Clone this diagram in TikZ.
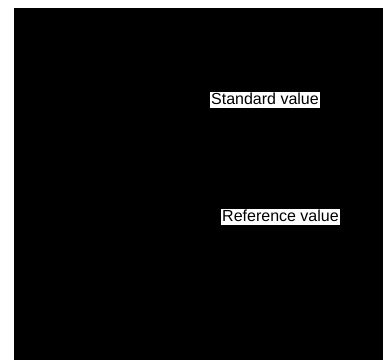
\documentclass[tikz,border=0pt]{standalone}
\usepackage{fontspec}
\setmainfont{Liberation Sans}
\begin{document}
\begin{tikzpicture}[x=1pt,y=-1pt,
  lbl/.style={fill=white,text=black,font=\fontsize{16}{18}\selectfont,inner xsep=1.2pt,inner ysep=0.5pt,text height=12pt,text depth=3.5pt}]
\useasboundingbox (0,0) rectangle (383,360);
\fill[white] (0,0) rectangle (383,360);
\fill[black] (14,8) rectangle (383,360);
\node[lbl] (std) at (265,100) {Standard value};
\node[lbl] (ref) at (280.5,217) {Reference value};
\end{tikzpicture}
\end{document}
